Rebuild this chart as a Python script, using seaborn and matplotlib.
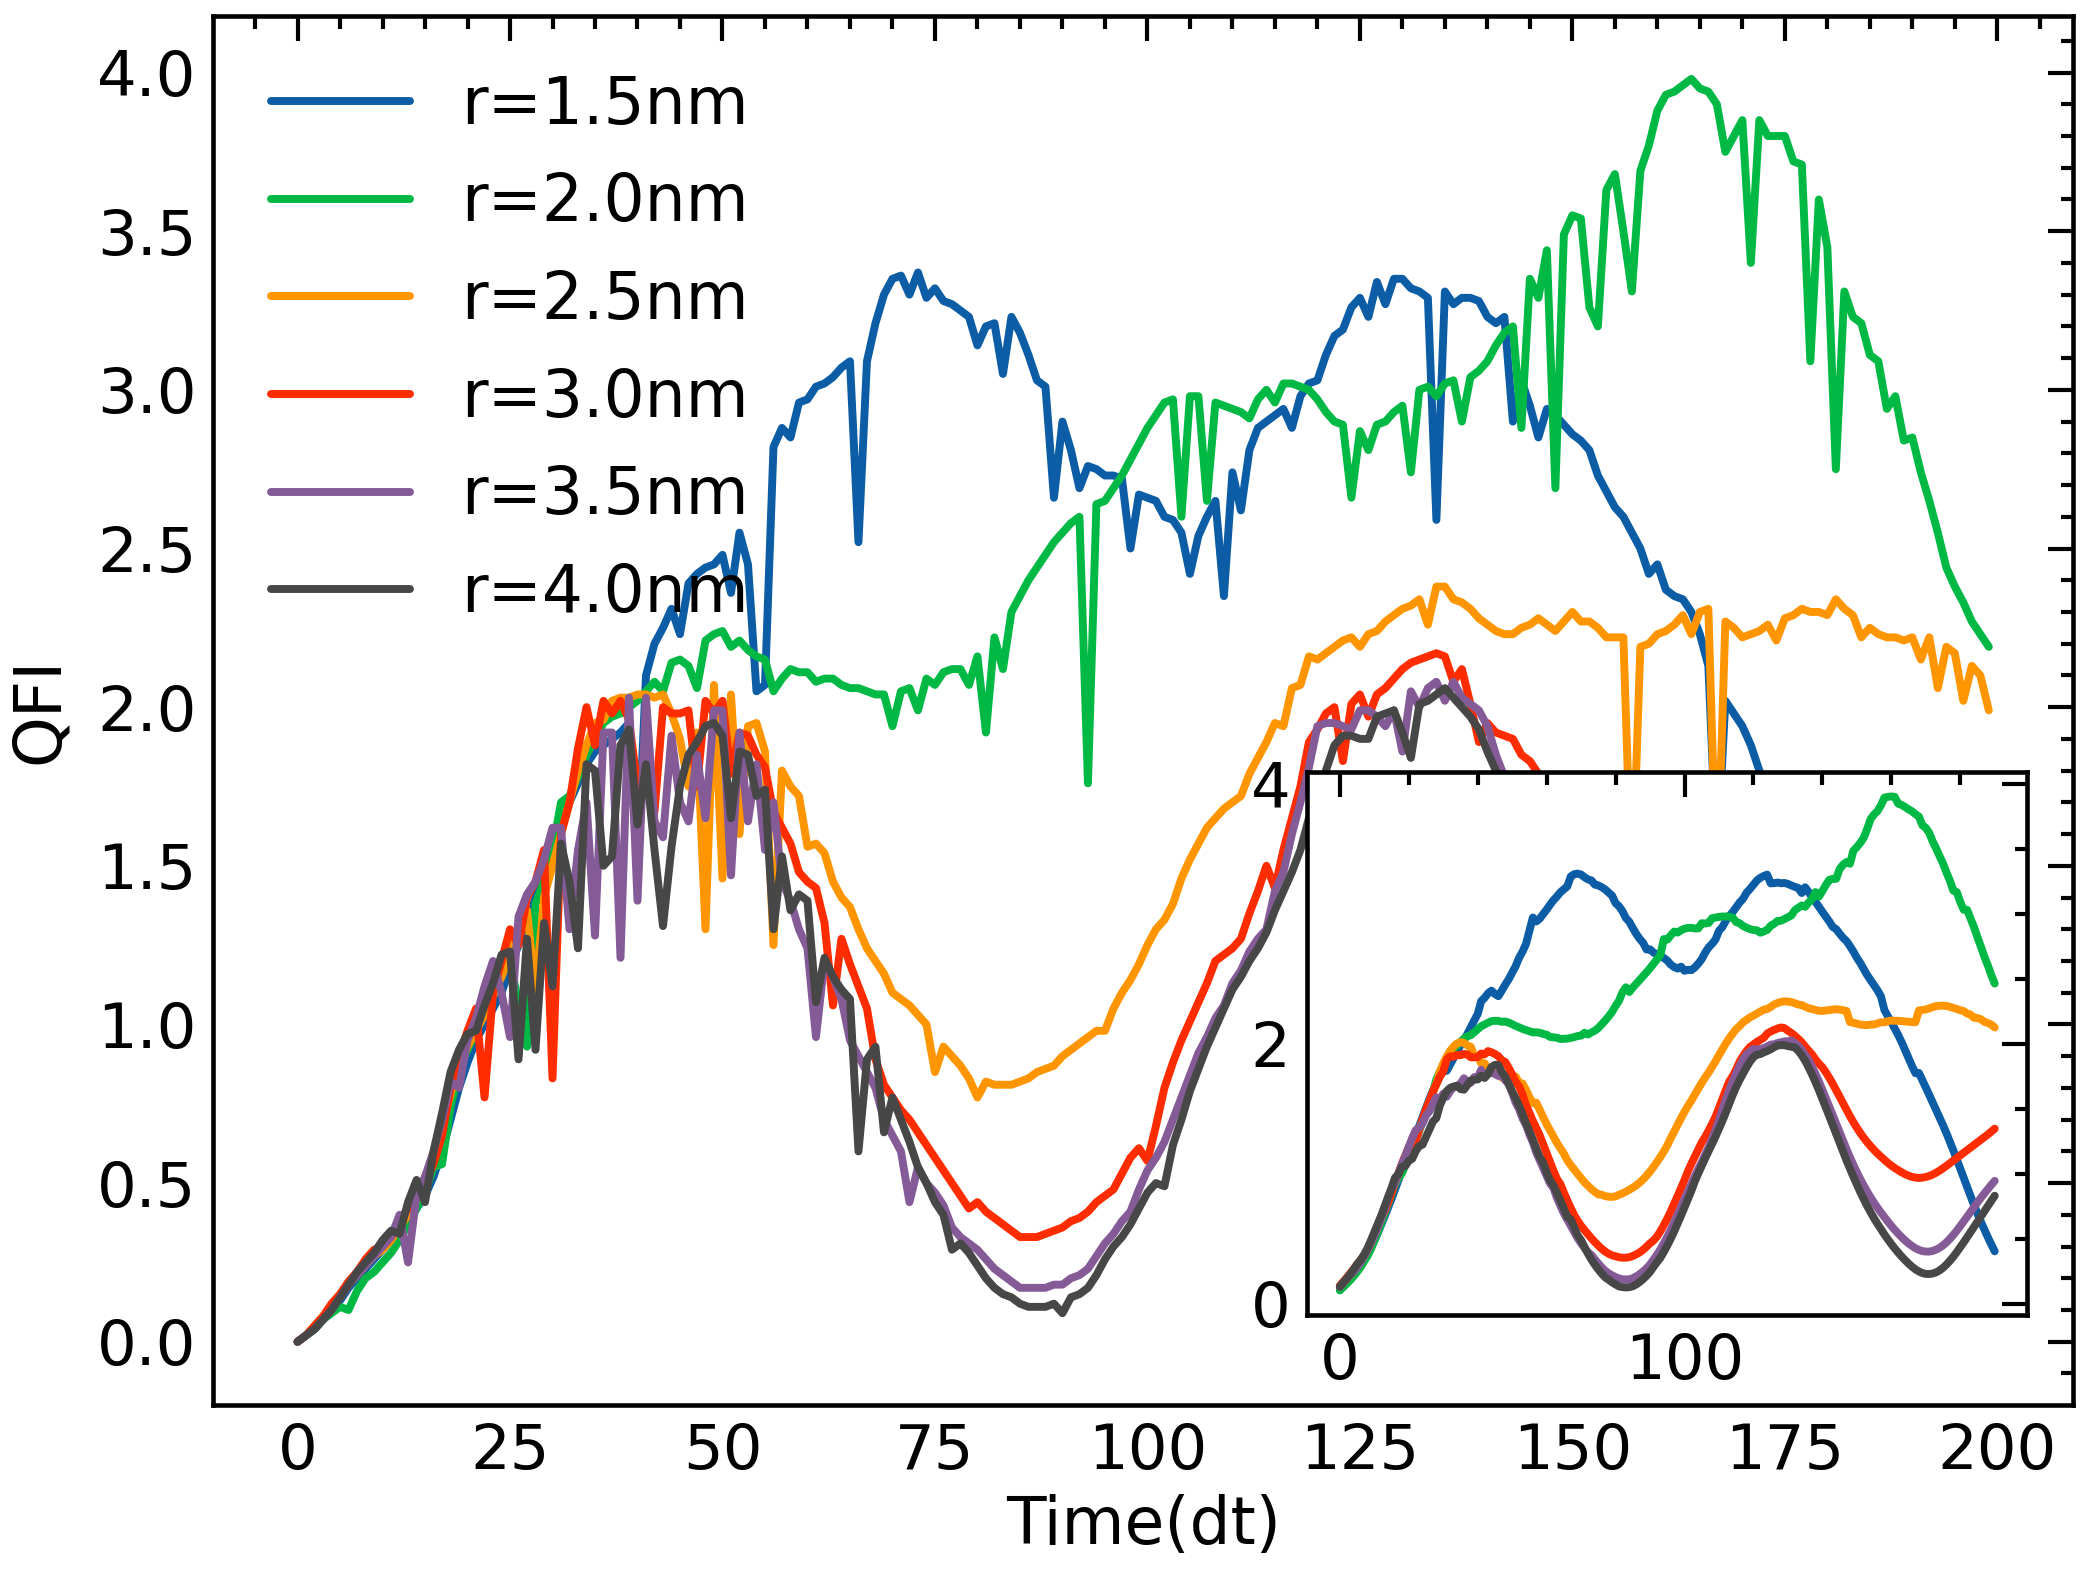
import numpy as np
import pandas as pd
import matplotlib
matplotlib.use("Agg")
import matplotlib.pyplot as plt
from matplotlib.ticker import MultipleLocator
import seaborn as sns

# time steps 0..199
t = np.arange(200)

r15 = [0.00, 0.02, 0.04, 0.07, 0.10, 0.13, 0.17, 0.20, 0.23, 0.26,
       0.29, 0.32, 0.35, 0.38, 0.42, 0.46, 0.52, 0.60, 0.70, 0.80,
       0.88, 0.95, 1.00, 1.05, 1.10, 1.18, 1.25, 1.32, 1.40, 1.48,
       1.55, 1.62, 1.70, 1.76, 1.82, 1.86, 1.88, 1.90, 1.92, 1.95,
       1.50, 2.10, 2.20, 2.25, 2.31, 2.23, 2.39, 2.42, 2.44, 2.45,
       2.48, 2.36, 2.55, 2.45, 2.05, 2.07, 2.82, 2.88, 2.85, 2.96,
       2.97, 3.01, 3.02, 3.04, 3.07, 3.09, 2.52, 3.09, 3.21, 3.30,
       3.35, 3.36, 3.30, 3.37, 3.29, 3.32, 3.28, 3.27, 3.25, 3.23,
       3.14, 3.20, 3.21, 3.05, 3.23, 3.18, 3.11, 3.03, 3.01, 2.66,
       2.90, 2.81, 2.69, 2.76, 2.75, 2.73, 2.73, 2.72, 2.50, 2.67,
       2.66, 2.65, 2.60, 2.59, 2.55, 2.42, 2.54, 2.60, 2.65, 2.35,
       2.74, 2.62, 2.81, 2.88, 2.90, 2.92, 2.94, 2.88, 2.98, 3.02,
       3.03, 3.11, 3.17, 3.19, 3.26, 3.29, 3.23, 3.34, 3.27, 3.35,
       3.35, 3.32, 3.31, 3.29, 2.59, 3.31, 3.27, 3.29, 3.29, 3.28,
       3.23, 3.21, 3.23, 2.90, 3.03, 2.95, 2.85, 2.94, 2.92, 2.89,
       2.86, 2.84, 2.81, 2.73, 2.68, 2.63, 2.60, 2.55, 2.50, 2.42,
       2.45, 2.37, 2.35, 2.34, 2.30, 2.23, 2.13, 1.50, 2.02, 1.98,
       1.94, 1.88, 1.80, 1.74, 1.68, 1.62, 1.57, 1.52, 1.47, 1.42,
       1.36, 1.30, 1.23, 1.16, 1.08, 1.00, 0.92, 0.85, 0.78, 0.71,
       0.65, 0.59, 0.53, 0.47, 0.42, 0.37, 0.32, 0.27, 0.22, 0.18]

r20 = [0.00, 0.02, 0.04, 0.07, 0.09, 0.11, 0.10, 0.16, 0.20, 0.22,
       0.25, 0.28, 0.32, 0.37, 0.42, 0.47, 0.55, 0.56, 0.74, 0.86,
       0.92, 0.98, 1.05, 1.10, 1.17, 1.22, 1.05, 0.93, 1.38, 1.45,
       1.55, 1.70, 1.72, 1.78, 1.85, 1.90, 1.95, 1.97, 1.98, 2.00,
       2.02, 2.05, 2.08, 2.05, 2.14, 2.15, 2.13, 2.06, 2.21, 2.23,
       2.24, 2.19, 2.21, 2.18, 2.16, 2.15, 2.05, 2.09, 2.12, 2.11,
       2.11, 2.08, 2.09, 2.09, 2.07, 2.06, 2.06, 2.05, 2.04, 2.04,
       1.94, 2.05, 2.06, 1.99, 2.09, 2.07, 2.11, 2.12, 2.12, 2.07,
       2.16, 1.92, 2.22, 2.12, 2.30, 2.35, 2.40, 2.44, 2.48, 2.52,
       2.55, 2.58, 2.60, 1.76, 2.64, 2.65, 2.69, 2.73, 2.78, 2.83,
       2.88, 2.92, 2.96, 2.97, 2.60, 2.98, 2.98, 2.65, 2.96, 2.95,
       2.94, 2.93, 2.91, 2.97, 3.00, 2.96, 3.02, 3.02, 3.01, 3.00,
       2.97, 2.93, 2.90, 2.89, 2.66, 2.87, 2.81, 2.89, 2.90, 2.93,
       2.95, 2.74, 3.00, 3.01, 2.98, 3.02, 3.03, 2.90, 3.04, 3.06,
       3.09, 3.14, 3.18, 3.20, 2.88, 3.35, 3.29, 3.44, 2.69, 3.49,
       3.55, 3.54, 3.26, 3.20, 3.63, 3.68, 3.50, 3.31, 3.69, 3.77,
       3.88, 3.93, 3.94, 3.96, 3.98, 3.95, 3.94, 3.90, 3.75, 3.80,
       3.85, 3.40, 3.85, 3.80, 3.80, 3.80, 3.72, 3.71, 3.09, 3.60,
       3.45, 2.75, 3.31, 3.23, 3.21, 3.11, 3.09, 2.94, 2.98, 2.84,
       2.85, 2.74, 2.65, 2.55, 2.44, 2.38, 2.33, 2.27, 2.23, 2.19]

r25 = [0.00, 0.02, 0.05, 0.08, 0.11, 0.14, 0.18, 0.21, 0.24, 0.27,
       0.29, 0.32, 0.36, 0.40, 0.45, 0.52, 0.58, 0.68, 0.78, 0.87,
       0.93, 0.98, 1.03, 1.09, 1.15, 1.22, 1.30, 1.36, 1.10, 1.40,
       1.50, 1.60, 1.70, 1.80, 1.88, 1.95, 1.96, 2.02, 2.03, 2.03,
       2.04, 2.04, 2.03, 2.04, 1.98, 1.90, 1.75, 1.92, 1.30, 2.07,
       1.46, 2.04, 1.60, 1.94, 1.95, 1.86, 1.25, 1.80, 1.75, 1.72,
       1.56, 1.57, 1.54, 1.45, 1.40, 1.37, 1.30, 1.24, 1.20, 1.16,
       1.10, 1.08, 1.06, 1.03, 1.00, 0.85, 0.93, 0.90, 0.87, 0.83,
       0.77, 0.82, 0.81, 0.81, 0.81, 0.82, 0.83, 0.85, 0.86, 0.87,
       0.90, 0.92, 0.94, 0.96, 0.98, 0.98, 1.05, 1.10, 1.14, 1.19,
       1.25, 1.30, 1.33, 1.38, 1.46, 1.52, 1.57, 1.62, 1.65, 1.68,
       1.70, 1.72, 1.79, 1.84, 1.89, 1.95, 1.94, 2.06, 2.07, 2.16,
       2.15, 2.17, 2.19, 2.21, 2.22, 2.19, 2.23, 2.24, 2.27, 2.29,
       2.31, 2.32, 2.34, 2.26, 2.38, 2.38, 2.34, 2.33, 2.31, 2.28,
       2.26, 2.24, 2.23, 2.23, 2.25, 2.26, 2.28, 2.26, 2.24, 2.27,
       2.30, 2.27, 2.27, 2.25, 2.22, 2.22, 2.22, 1.40, 2.19, 2.20,
       2.23, 2.24, 2.26, 2.29, 2.23, 2.30, 2.31, 1.40, 2.27, 2.25,
       2.22, 2.23, 2.24, 2.26, 2.21, 2.28, 2.29, 2.31, 2.30, 2.30,
       2.29, 2.34, 2.31, 2.29, 2.22, 2.25, 2.23, 2.22, 2.22, 2.21,
       2.22, 2.15, 2.22, 2.06, 2.19, 2.17, 2.02, 2.13, 2.10, 1.99]

r30 = [0.00, 0.02, 0.05, 0.08, 0.12, 0.15, 0.19, 0.22, 0.26, 0.29,
       0.30, 0.33, 0.38, 0.42, 0.46, 0.50, 0.56, 0.65, 0.80, 0.90,
       0.98, 1.05, 0.77, 1.10, 1.20, 1.30, 1.25, 1.40, 1.45, 1.55,
       0.83, 1.60, 1.70, 1.87, 2.00, 1.88, 2.02, 1.98, 2.02, 1.96,
       1.75, 1.85, 1.67, 2.00, 1.98, 1.98, 1.99, 1.75, 2.02, 1.98,
       2.02, 1.79, 1.92, 1.91, 1.85, 1.81, 1.67, 1.62, 1.57, 1.48,
       1.45, 1.43, 1.32, 1.06, 1.27, 1.19, 1.12, 1.05, 0.89, 0.81,
       0.77, 0.73, 0.70, 0.66, 0.62, 0.58, 0.54, 0.50, 0.46, 0.42,
       0.44, 0.41, 0.39, 0.37, 0.35, 0.33, 0.33, 0.33, 0.34, 0.35,
       0.36, 0.38, 0.39, 0.41, 0.44, 0.46, 0.48, 0.53, 0.58, 0.61,
       0.57, 0.68, 0.80, 0.88, 0.95, 1.01, 1.07, 1.13, 1.20, 1.22,
       1.24, 1.27, 1.35, 1.42, 1.50, 1.43, 1.55, 1.65, 1.75, 1.89,
       1.93, 1.98, 2.00, 1.83, 2.01, 2.04, 1.97, 2.04, 2.06, 2.09,
       2.12, 2.14, 2.15, 2.16, 2.17, 2.16, 2.08, 2.12, 2.01, 1.89,
       1.95, 1.92, 1.91, 1.90, 1.85, 1.83, 1.79, 1.74, 1.68, 1.62,
       1.56, 1.50, 1.45, 1.40, 1.36, 1.32, 1.28, 1.25, 1.22, 1.19,
       1.16, 1.13, 1.11, 1.09, 1.07, 1.05, 1.03, 1.01, 0.99, 0.98,
       0.97, 0.96, 0.95, 0.95, 0.95, 0.96, 0.97, 0.99, 1.01, 1.03,
       1.05, 1.07, 1.09, 1.11, 1.13, 1.15, 1.17, 1.19, 1.21, 1.23,
       1.25, 1.27, 1.29, 1.31, 1.33, 1.35, 1.37, 1.40, 1.43, 1.46]

r35 = [0.00, 0.02, 0.04, 0.07, 0.10, 0.14, 0.18, 0.21, 0.24, 0.27,
       0.30, 0.33, 0.40, 0.25, 0.46, 0.52, 0.60, 0.70, 0.82, 0.80,
       0.95, 1.02, 1.12, 1.20, 1.10, 0.96, 1.34, 1.41, 1.45, 1.52,
       1.62, 1.62, 1.30, 1.55, 1.70, 1.28, 1.92, 1.92, 1.21, 2.03,
       1.39, 2.03, 1.64, 1.59, 1.91, 1.70, 1.64, 1.85, 1.65, 1.99,
       1.99, 1.47, 1.92, 1.64, 1.82, 1.55, 1.70, 1.45, 1.39, 1.30,
       1.24, 0.96, 1.20, 1.15, 1.08, 0.95, 0.90, 0.85, 0.80, 0.70,
       0.65, 0.60, 0.44, 0.55, 0.50, 0.47, 0.43, 0.36, 0.33, 0.31,
       0.29, 0.26, 0.23, 0.21, 0.19, 0.17, 0.17, 0.17, 0.17, 0.18,
       0.18, 0.20, 0.21, 0.23, 0.27, 0.31, 0.34, 0.38, 0.41, 0.48,
       0.54, 0.58, 0.63, 0.70, 0.77, 0.84, 0.91, 0.96, 1.02, 1.06,
       1.13, 1.17, 1.23, 1.27, 1.30, 1.42, 1.48, 1.60, 1.70, 1.81,
       1.94, 1.95, 1.95, 1.94, 1.93, 1.99, 1.99, 1.97, 1.94, 1.99,
       1.86, 2.05, 2.00, 2.06, 2.08, 2.02, 2.08, 2.03, 2.01, 1.99,
       1.94, 1.85, 1.78, 1.74, 1.69, 1.63, 1.56, 1.49, 1.42, 1.35,
       1.28, 1.21, 1.14, 1.08, 1.02, 0.97, 0.92, 0.87, 0.83, 0.79,
       0.75, 0.71, 0.67, 0.64, 0.61, 0.58, 0.55, 0.52, 0.49, 0.46,
       0.44, 0.42, 0.40, 0.39, 0.38, 0.38, 0.38, 0.39, 0.40, 0.42,
       0.44, 0.47, 0.50, 0.53, 0.57, 0.61, 0.65, 0.69, 0.73, 0.77,
       0.80, 0.84, 0.87, 0.90, 0.93, 0.96, 0.99, 1.02, 1.05, 1.08]

r40 = [0.00, 0.02, 0.04, 0.07, 0.10, 0.14, 0.18, 0.22, 0.25, 0.28,
       0.32, 0.35, 0.34, 0.44, 0.51, 0.44, 0.60, 0.72, 0.85, 0.92,
       0.97, 0.98, 1.06, 1.13, 1.22, 1.23, 0.89, 1.27, 0.92, 1.32,
       1.12, 1.57, 1.45, 1.24, 1.82, 1.80, 1.50, 1.53, 1.88, 1.93,
       1.63, 1.82, 1.55, 1.31, 1.56, 1.75, 1.85, 1.89, 1.94, 1.95,
       1.91, 1.65, 1.86, 1.85, 1.72, 1.74, 1.30, 1.53, 1.36, 1.41,
       1.39, 1.07, 1.21, 1.15, 1.11, 1.08, 0.60, 0.89, 0.93, 0.66,
       0.77, 0.70, 0.63, 0.55, 0.50, 0.44, 0.40, 0.29, 0.31, 0.28,
       0.24, 0.20, 0.17, 0.15, 0.14, 0.12, 0.11, 0.11, 0.11, 0.12,
       0.09, 0.14, 0.15, 0.17, 0.21, 0.26, 0.30, 0.33, 0.37, 0.42,
       0.47, 0.50, 0.49, 0.62, 0.70, 0.79, 0.86, 0.93, 0.99, 1.05,
       1.11, 1.15, 1.20, 1.24, 1.29, 1.36, 1.42, 1.48, 1.55, 1.65,
       1.72, 1.80, 1.88, 1.91, 1.91, 1.90, 1.90, 1.97, 1.98, 1.99,
       1.92, 1.84, 2.01, 2.02, 2.04, 2.06, 2.03, 2.00, 1.97, 1.93,
       1.86, 1.80, 1.74, 1.68, 1.62, 1.55, 1.48, 1.41, 1.34, 1.27,
       1.20, 1.13, 1.06, 0.99, 0.93, 0.87, 0.82, 0.77, 0.72, 0.67,
       0.62, 0.58, 0.54, 0.50, 0.47, 0.44, 0.41, 0.37, 0.34, 0.31,
       0.28, 0.26, 0.24, 0.22, 0.21, 0.20, 0.20, 0.21, 0.22, 0.24,
       0.27, 0.30, 0.33, 0.37, 0.41, 0.45, 0.49, 0.53, 0.57, 0.61,
       0.65, 0.69, 0.73, 0.77, 0.81, 0.85, 0.89, 0.93, 0.97, 1.01]

labels = ["r=1.5nm", "r=2.0nm", "r=2.5nm", "r=3.0nm", "r=3.5nm", "r=4.0nm"]
series = [r15, r20, r25, r30, r35, r40]
colors = ["#0C5DA5", "#00B945", "#FF9500", "#FF2C00", "#845B97", "#474747"]

sns.set_theme(style="white")
plt.rcParams["font.family"] = ["DejaVu Sans"]
plt.rcParams["text.color"] = "black"
plt.rcParams["axes.labelcolor"] = "black"
plt.rcParams["xtick.color"] = "black"
plt.rcParams["ytick.color"] = "black"
plt.rcParams["axes.linewidth"] = 1.1
plt.rcParams["axes.edgecolor"] = "black"

LW = 1.9

fig = plt.figure(figsize=(6.96, 5.25), dpi=300)
ax = fig.add_axes([0.102, 0.108, 0.891, 0.882])

for vals, lab, c in zip(series, labels, colors):
    sns.lineplot(x=t, y=vals, color=c, label=lab, linewidth=LW, ax=ax)

ax.set_xlabel("Time(dt)", fontsize=15.5, labelpad=3)
ax.set_ylabel("QFI", fontsize=15.5, labelpad=6)
ax.xaxis.set_major_locator(MultipleLocator(25))
ax.xaxis.set_minor_locator(MultipleLocator(5))
ax.yaxis.set_major_locator(MultipleLocator(0.5))
ax.yaxis.set_minor_locator(MultipleLocator(0.1))
ax.tick_params(which="both", direction="in", top=True, right=True,
               width=1.0, colors="black", labelsize=15)
ax.tick_params(which="major", length=6, pad=4)
ax.tick_params(which="minor", length=3)
ax.legend(loc="upper left", frameon=False, fontsize=15.5,
          handlelength=2.15, handletextpad=0.8, labelspacing=0.52)

# inset: 10-step moving average of the same series
axin = fig.add_axes([0.626, 0.165, 0.345, 0.345])
axin.set_facecolor("white")
win = 10
for vals, c in zip(series, colors):
    smooth = np.convolve(np.asarray(vals), np.ones(win) / win, mode="valid")
    sns.lineplot(x=np.arange(len(smooth)), y=smooth, color=c,
                 linewidth=LW, ax=axin, legend=False)
axin.set_xlabel("")
axin.set_ylabel("")
axin.xaxis.set_major_locator(MultipleLocator(100))
axin.xaxis.set_minor_locator(MultipleLocator(20))
axin.yaxis.set_major_locator(MultipleLocator(2))
axin.yaxis.set_minor_locator(MultipleLocator(0.5))
axin.tick_params(which="both", direction="in", top=True, right=True,
                 width=1.0, colors="black", labelsize=15)
axin.tick_params(which="major", length=6, pad=4)
axin.tick_params(which="minor", length=3)
for s in axin.spines.values():
    s.set_linewidth(1.1)

fig.savefig("out.png", dpi=300)
